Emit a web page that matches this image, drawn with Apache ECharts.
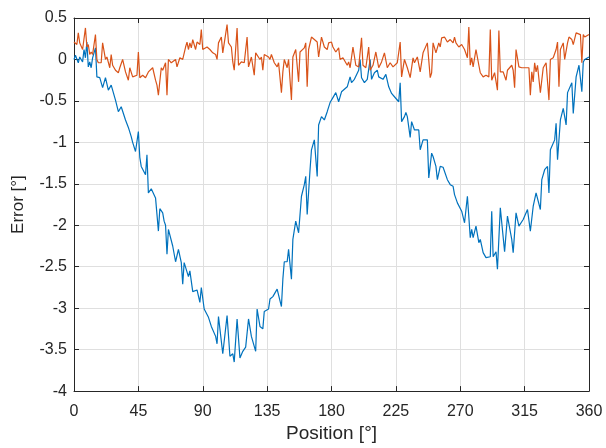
<!DOCTYPE html>
<html>
<head>
<meta charset="utf-8">
<script src="https://cdn.jsdelivr.net/npm/echarts@6/dist/echarts.min.js"></script>
<style>
  html, body { margin: 0; padding: 0; background: #fff; }
  #chart { width: 606px; height: 448px; }
</style>
</head>
<body>
<div id="chart"></div>
<script>
// position [deg] and error [deg]
var blueDeg = [0, 1, 3, 4, 6, 7, 8, 9, 10, 11, 12, 13, 15, 16, 18, 19, 20, 22, 24, 26, 29, 31, 33, 36, 38, 39, 40, 41, 43, 45, 46, 47, 48, 50, 51, 52, 54, 57, 59, 60, 62, 63, 64, 65, 66, 67, 69, 71, 73, 75, 76, 77, 80, 81, 83, 86, 88, 89, 91, 94, 96, 99, 100, 101, 104, 107, 109, 111, 112, 114, 116, 118, 120, 122, 124, 127, 128, 130, 132, 133, 136, 137, 139, 142, 145, 146, 147, 149, 150, 152, 153, 155, 157, 159, 161, 162, 163, 165, 166, 168, 170, 171, 173, 175, 177, 179, 181, 183, 185, 187, 191, 193, 194, 196, 199, 200, 201, 203, 205, 207, 208, 210, 212, 213, 216, 218, 220, 222, 224, 227, 228, 229, 231, 232, 233, 235, 236, 238, 241, 242, 244, 247, 248, 250, 251, 253, 254, 256, 258, 261, 263, 265, 266, 268, 271, 273, 275, 277, 278, 279, 281, 283, 284, 286, 288, 291, 292, 293, 295, 296, 298, 301, 302, 303, 306, 307, 309, 311, 314, 317, 319, 321, 323, 326, 327, 329, 331, 332, 333, 336, 337, 338, 340, 342, 344, 345, 348, 349, 351, 353, 355, 356, 357, 358, 360];
var blueErr = [0.00, 0.05, -0.04, 0.03, -0.03, 0.12, 0.02, 0.21, -0.09, -0.03, -0.10, 0.02, 0.14, -0.21, -0.22, -0.21, -0.34, -0.22, -0.37, -0.31, -0.49, -0.63, -0.57, -0.73, -0.82, -0.84, -0.93, -1.00, -1.11, -0.87, -1.18, -1.29, -1.27, -1.39, -1.15, -1.61, -1.56, -1.67, -2.07, -1.80, -1.85, -1.95, -2.00, -2.35, -2.05, -2.07, -2.25, -2.44, -2.29, -2.45, -2.71, -2.45, -2.62, -2.55, -2.80, -2.78, -2.93, -2.75, -3.01, -3.11, -3.22, -3.34, -3.43, -3.10, -3.55, -3.09, -3.58, -3.55, -3.65, -3.13, -3.60, -3.52, -3.47, -3.13, -3.34, -3.52, -3.01, -3.22, -3.25, -3.04, -3.01, -2.89, -2.86, -2.77, -2.98, -2.65, -2.44, -2.44, -2.29, -2.65, -2.17, -1.95, -2.09, -1.65, -1.51, -1.41, -1.87, -1.33, -1.09, -0.97, -1.41, -0.79, -0.69, -0.73, -0.63, -0.52, -0.46, -0.40, -0.51, -0.39, -0.33, -0.21, -0.28, -0.24, -0.13, 0.00, -0.22, -0.28, -0.24, 0.00, -0.24, -0.16, -0.13, -0.21, -0.24, -0.18, -0.33, -0.41, -0.45, -0.51, -0.28, -0.75, -0.69, -0.64, -0.69, -0.94, -0.75, -0.85, -0.85, -1.09, -0.97, -0.97, -1.43, -1.13, -1.17, -1.29, -1.45, -1.29, -1.30, -1.45, -1.51, -1.53, -1.63, -1.73, -1.83, -1.97, -1.65, -2.15, -2.05, -2.15, -2.01, -2.21, -2.17, -2.33, -2.39, -2.38, -1.83, -2.38, -2.32, -2.53, -1.79, -2.32, -2.33, -1.89, -2.17, -2.33, -1.85, -2.01, -1.93, -1.81, -2.07, -1.77, -1.61, -1.81, -1.45, -1.33, -1.29, -1.61, -1.09, -0.97, -0.77, -1.21, -0.73, -0.59, -0.79, -0.40, -0.28, -0.65, -0.21, -0.07, -0.39, -0.03, 0.00, 0.00, 0.03];

var orangeDeg = [0, 2, 3, 4, 5, 6, 8, 9, 10, 11, 12, 13, 15, 16, 17, 18, 19, 20, 22, 23, 25, 26, 27, 29, 31, 32, 34, 36, 38, 39, 41, 44, 45, 46, 48, 50, 52, 53, 55, 57, 58, 59, 61, 62, 64, 65, 66, 68, 71, 72, 74, 76, 78, 79, 80, 81, 82, 83, 85, 86, 88, 89, 90, 93, 95, 97, 99, 100, 101, 103, 104, 107, 108, 110, 111, 112, 114, 115, 117, 119, 121, 122, 124, 126, 127, 130, 131, 132, 133, 136, 137, 138, 140, 142, 143, 145, 146, 147, 149, 150, 152, 153, 155, 157, 158, 159, 161, 162, 163, 164, 166, 168, 170, 171, 173, 174, 175, 177, 178, 180, 181, 183, 185, 186, 188, 191, 192, 193, 195, 197, 199, 201, 202, 204, 206, 207, 209, 211, 213, 215, 217, 219, 221, 223, 226, 228, 229, 231, 233, 235, 237, 238, 240, 242, 244, 245, 247, 249, 250, 251, 253, 255, 256, 257, 259, 261, 263, 265, 266, 267, 269, 271, 273, 275, 276, 277, 278, 279, 281, 283, 284, 286, 288, 290, 291, 292, 294, 296, 297, 298, 300, 302, 303, 304, 306, 307, 308, 309, 311, 313, 315, 318, 319, 320, 321, 322, 323, 324, 326, 328, 329, 330, 332, 333, 335, 337, 338, 339, 340, 342, 343, 345, 346, 348, 349, 351, 352, 354, 355, 356, 357, 358, 360];
var orangeErr = [0.21, 0.18, 0.32, 0.20, 0.21, 0.12, 0.38, 0.15, 0.18, 0.06, 0.09, 0.06, 0.30, 0.00, -0.04, -0.03, -0.04, 0.20, 0.00, 0.03, -0.10, 0.06, -0.07, -0.13, -0.16, -0.10, 0.00, -0.15, -0.25, -0.10, -0.21, -0.19, 0.09, -0.22, -0.19, -0.22, -0.15, -0.15, -0.10, -0.25, -0.31, -0.43, -0.10, -0.13, -0.04, -0.43, 0.00, -0.04, 0.00, -0.09, 0.02, 0.00, 0.15, 0.21, 0.12, 0.20, 0.14, 0.24, 0.12, 0.21, 0.18, 0.36, 0.12, 0.15, 0.12, 0.08, 0.06, 0.00, 0.20, 0.27, 0.08, 0.42, 0.20, 0.15, -0.03, -0.13, 0.38, -0.07, -0.03, -0.04, 0.27, -0.09, 0.03, -0.19, 0.08, 0.00, 0.03, -0.13, 0.06, 0.03, 0.00, 0.06, -0.04, -0.09, -0.04, -0.40, -0.15, 0.00, -0.10, 0.00, -0.49, 0.03, 0.12, -0.27, 0.09, 0.09, 0.14, 0.20, -0.33, 0.12, 0.27, 0.24, 0.21, 0.03, 0.27, 0.26, 0.15, 0.12, 0.20, 0.21, 0.15, 0.09, 0.14, 0.00, 0.02, -0.07, -0.03, -0.10, 0.15, -0.07, -0.09, 0.26, -0.07, -0.10, 0.15, -0.13, -0.07, 0.09, -0.10, -0.03, 0.08, -0.10, -0.04, -0.09, -0.04, 0.21, -0.21, 0.00, -0.10, -0.22, 0.02, -0.04, 0.03, -0.15, 0.08, 0.08, 0.20, -0.22, -0.16, 0.20, 0.08, 0.20, 0.15, 0.26, 0.27, 0.21, 0.24, 0.20, 0.27, 0.20, 0.15, 0.18, 0.12, 0.02, 0.39, -0.07, 0.02, -0.09, 0.12, -0.07, -0.16, -0.21, -0.19, -0.21, 0.36, -0.25, -0.16, -0.37, 0.35, -0.15, -0.15, -0.25, -0.13, -0.15, -0.07, -0.13, -0.34, 0.12, -0.09, -0.10, -0.10, -0.10, -0.43, -0.15, -0.27, -0.04, -0.15, -0.07, -0.40, -0.10, -0.10, -0.04, -0.49, 0.00, 0.02, 0.12, 0.21, -0.33, 0.12, 0.20, 0.00, 0.20, 0.27, 0.24, 0.18, 0.32, 0.33, 0.30, -0.04, 0.30, 0.27, 0.27, 0.30];

function zip(xs, ys) {
  return xs.map(function (x, i) { return [x, ys[i]]; });
}

var textColor = '#262626';
var gridColor = '#dfdfdf';
var font = 'Liberation Sans, Arial, sans-serif';

// box axes: top and right copies with ticks only
function boxAxis(min, max, interval, position) {
  return {
    type: 'value', min: min, max: max, interval: interval, position: position,
    axisLine: { show: true, onZero: false, lineStyle: { color: textColor, width: 1 } },
    axisTick: { show: true, inside: true, length: 5, lineStyle: { color: textColor } },
    axisLabel: { show: false },
    splitLine: { show: false }
  };
}

var chart = echarts.init(document.getElementById('chart'));
chart.setOption({
  animation: false,
  grid: { left: 74, right: 17, top: 18, bottom: 56, containLabel: false },
  xAxis: [
    {
      type: 'value', min: 0, max: 360, interval: 45,
      name: 'Position [°]', nameLocation: 'middle', nameGap: 27,
      nameTextStyle: { fontSize: 19, color: textColor, fontFamily: font },
      axisLine: { onZero: false, lineStyle: { color: textColor, width: 1 } },
      axisTick: { inside: true, length: 5, lineStyle: { color: textColor } },
      axisLabel: { fontSize: 16, color: textColor, fontFamily: font, margin: 12 },
      splitLine: { show: true, lineStyle: { color: gridColor, width: 1 } }
    },
    boxAxis(0, 360, 45, 'top')
  ],
  yAxis: [
    {
      type: 'value', min: -4, max: 0.5, interval: 0.5,
      name: 'Error [°]', nameLocation: 'middle', nameGap: 47,
      nameTextStyle: { fontSize: 17, color: textColor, fontFamily: font },
      axisLine: { show: true, onZero: false, lineStyle: { color: textColor, width: 1 } },
      axisTick: { show: true, inside: true, length: 5, lineStyle: { color: textColor } },
      axisLabel: { fontSize: 16, color: textColor, fontFamily: font, margin: 7 },
      splitLine: { show: true, lineStyle: { color: gridColor, width: 1 } }
    },
    boxAxis(-4, 0.5, 0.5, 'right')
  ],
  series: [
    {
      type: 'line', xAxisIndex: 0, yAxisIndex: 0,
      data: zip(blueDeg, blueErr),
      showSymbol: false,
      lineStyle: { color: '#0072BD', width: 1.2 },
      itemStyle: { color: '#0072BD' }
    },
    {
      type: 'line', xAxisIndex: 0, yAxisIndex: 0,
      data: zip(orangeDeg, orangeErr),
      showSymbol: false,
      lineStyle: { color: '#D95319', width: 1.2 },
      itemStyle: { color: '#D95319' }
    }
  ]
});
</script>
</body>
</html>
